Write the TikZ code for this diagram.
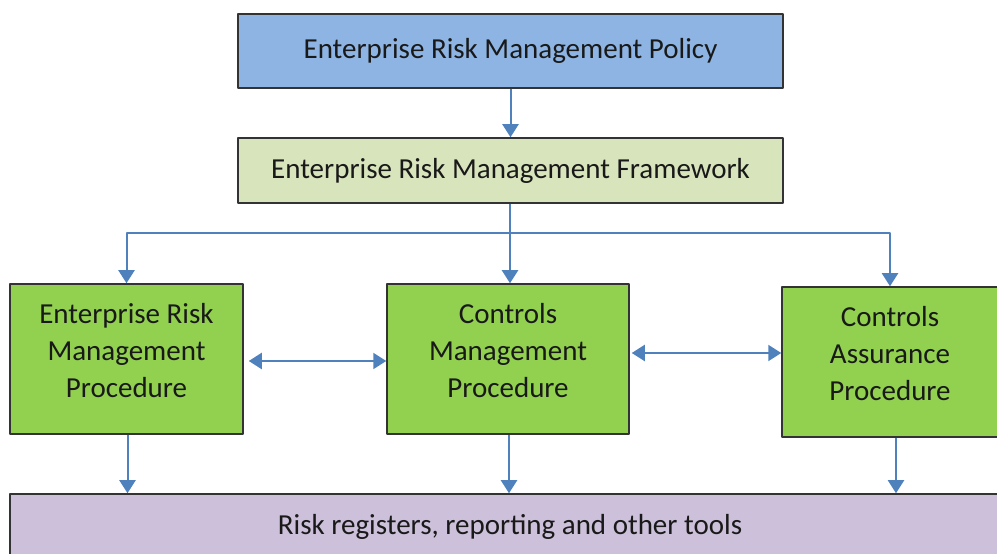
\documentclass[tikz,border=0pt]{standalone}
\usepackage{fontspec}
\setmainfont{Carlito}
\usetikzlibrary{arrows.meta}
\definecolor{policyblue}{RGB}{141,180,226}
\definecolor{frameolive}{RGB}{216,228,188}
\definecolor{procgreen}{RGB}{146,208,80}
\definecolor{toolslilac}{RGB}{204,192,218}
\definecolor{flowblue}{RGB}{79,129,189}
\begin{document}
\begin{tikzpicture}[>={Triangle[width=16bp,length=13bp]},line join=bevel,
  box/.style={draw=black!80,line width=1.5bp,align=center,inner sep=0pt,text=black!90,
    font=\fontsize{29bp}{37bp}\selectfont},
  procbox/.style={box,fill=procgreen,minimum height=150bp,text depth=18bp},
  flow/.style={->,draw=flowblue,line width=2bp},
  both/.style={<->,draw=flowblue,line width=2bp},
  ]
%%
\clip (0bp,0bp) rectangle (997bp,554bp);
\node (node_policy) at (510.5bp,503.0bp) [box,fill=policyblue,minimum width=545bp,minimum height=74bp] {Enterprise Risk Management Policy};
  \node (node_framework) at (510.5bp,383.5bp) [box,fill=frameolive,minimum width=545bp,minimum height=65bp] {Enterprise Risk Management Framework};
  \node (node_erm) at (126.5bp,195.0bp) [procbox,minimum width=233bp] {Enterprise Risk\\Management\\Procedure};
  \node (node_ctrl) at (508.0bp,195.0bp) [procbox,minimum width=242bp] {Controls\\Management\\Procedure};
  \node (node_assur) at (890.0bp,192.0bp) [procbox,minimum width=216bp] {Controls\\Assurance\\Procedure};
  \node (node_tools) at (510.0bp,27.0bp) [box,fill=toolslilac,minimum width=1000bp,minimum height=66bp] {Risk registers, reporting and other tools};
  \coordinate (split) at (510.0bp,321.0bp);
%
  \draw [flow] (node_policy) -- (node_framework);
  \draw [flow] (node_framework.south -| split) -- (node_ctrl.north -| split);
  \draw [flow] (split) -| (node_erm.north);
  \draw [flow] (split) -| (node_assur.north);
  \draw [both,shorten <=5bp] ([yshift=-2bp]node_erm.east) -- ([yshift=-2bp]node_erm.east -| node_ctrl.west);
  \draw [both,shorten <=2bp] ([yshift=6bp]node_ctrl.east) -- ([yshift=6bp]node_ctrl.east -| node_assur.west);
  \draw [flow] ([xshift=1bp]node_erm.south) -- ([xshift=1bp]node_erm.south |- node_tools.north);
  \draw [flow] ([xshift=1bp]node_ctrl.south) -- ([xshift=1bp]node_ctrl.south |- node_tools.north);
  \draw [flow] ([xshift=6bp]node_assur.south) -- ([xshift=6bp]node_assur.south |- node_tools.north);
%
\end{tikzpicture}
\end{document}
